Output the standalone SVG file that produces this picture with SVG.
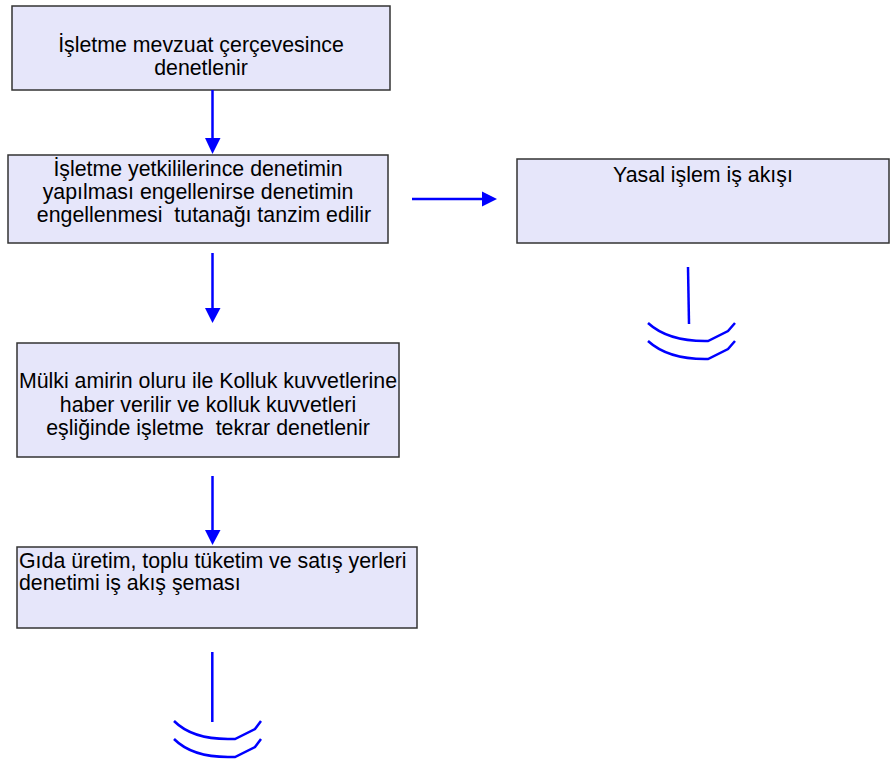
<svg xmlns="http://www.w3.org/2000/svg" width="896" height="763" viewBox="0 0 896 763">
<style>
.box{fill:#e6e6fa;stroke:#333333;stroke-width:1.5}
.t{font-family:"Liberation Sans",Arial,sans-serif;font-size:21.33px;fill:#000}
.c{text-anchor:middle}
.ln{stroke:#0000ff;stroke-width:2.5;fill:none}
.hd{fill:#0000ff}
</style>
<rect width="896" height="763" fill="#ffffff"/>
<g id="n1">
<rect class="box" x="12" y="6" width="378" height="84"/>
<text class="t c" x="201" y="52">İşletme mevzuat çerçevesince</text>
<text class="t c" x="201" y="75">denetlenir</text>
</g>
<g id="n2">
<rect class="box" x="8" y="155" width="380" height="88"/>
<text class="t c" x="198" y="176">İşletme yetkililerince denetimin</text>
<text class="t c" x="198" y="199">yapılması engellenirse denetimin</text>
<text class="t c" x="204" y="222" xml:space="preserve">engellenmesi  tutanağı tanzim edilir</text>
</g>
<g id="n3">
<rect class="box" x="517" y="159" width="372" height="84"/>
<text class="t c" x="703" y="182">Yasal işlem iş akışı</text>
</g>
<g id="n4">
<rect class="box" x="17" y="343" width="382" height="114"/>
<text class="t c" x="208" y="388">Mülki amirin oluru ile Kolluk kuvvetlerine</text>
<text class="t c" x="208" y="412">haber verilir ve kolluk kuvvetleri</text>
<text class="t c" x="208" y="435" xml:space="preserve">eşliğinde işletme  tekrar denetlenir</text>
</g>
<g id="n5">
<rect class="box" x="17" y="547" width="400" height="81"/>
<text class="t" x="19" y="568">Gıda üretim, toplu tüketim ve satış yerleri</text>
<text class="t" x="19" y="590">denetimi iş akış şeması</text>
</g>
<g id="connectors">
<line class="ln" x1="212.5" y1="90" x2="212.5" y2="140"/>
<polygon class="hd" points="205,138 220.5,138 212.5,154"/>
<line class="ln" x1="412" y1="199" x2="484" y2="199"/>
<polygon class="hd" points="482,191.5 482,206.5 497,199"/>
<line class="ln" x1="212.5" y1="253" x2="212.5" y2="310"/>
<polygon class="hd" points="205,308 220.5,308 212.5,323"/>
<line class="ln" x1="212.5" y1="476" x2="212.5" y2="532"/>
<polygon class="hd" points="205,530 220.5,530 212.5,545"/>
<line class="ln" x1="688" y1="267" x2="689" y2="324"/>
<path class="ln" d="M648,323 C660,334 680,341 705,341 L708,341 L728,331 L735,323"/>
<path class="ln" d="M648,341 C660,352 680,359 705,359 L708,359 L728,349 L735,341"/>
<line class="ln" x1="212.3" y1="652" x2="212.3" y2="722"/>
<path class="ln" d="M174,721 C185,732 202,739 228,739 L235,739 L255,729 L261,721"/>
<path class="ln" d="M174,739 C185,750 202,757 228,757 L235,757 L255,747 L261,739"/>
</g>
</svg>
